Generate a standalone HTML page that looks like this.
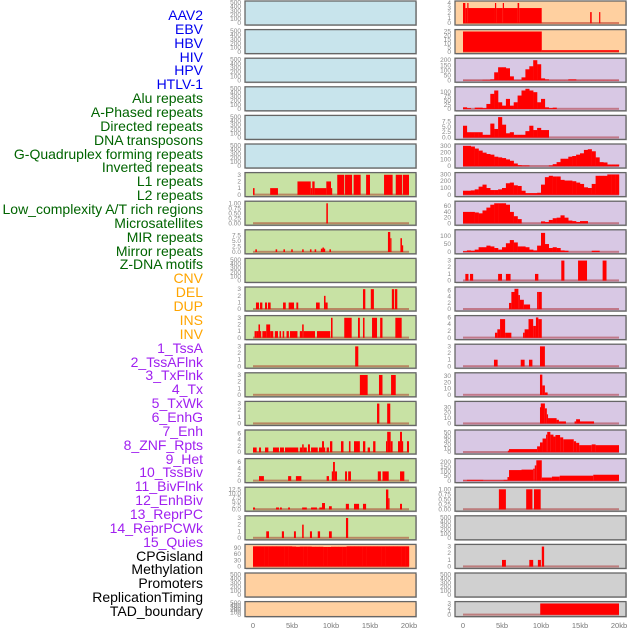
<!DOCTYPE html>
<html><head><meta charset="utf-8">
<style>
html,body{margin:0;padding:0;background:#fff;}
body{width:630px;height:630px;overflow:hidden;position:relative;font-family:"Liberation Sans",sans-serif;}
#labels div{position:absolute;right:427px;font-size:14px;line-height:14px;white-space:nowrap;}
svg{position:absolute;left:0;top:0;}
</style></head>
<body>
<div id="labels"></div>
<svg id="chart" width="630" height="630"></svg>
<script>
const trackLabels = ["AAV2","EBV","HBV","HIV","HPV","HTLV-1","Alu repeats","A-Phased repeats","Directed repeats","DNA transposons","G-Quadruplex forming repeats","Inverted repeats","L1 repeats","L2 repeats","Low_complexity A/T rich regions","Microsatellites","MIR repeats","Mirror repeats","Z-DNA motifs","CNV","DEL","DUP","INS","INV","1_TssA","2_TssAFlnk","3_TxFlnk","4_Tx","5_TxWk","6_EnhG","7_Enh","8_ZNF_Rpts","9_Het","10_TssBiv","11_BivFlnk","12_EnhBiv","13_ReprPC","14_ReprPCWk","15_Quies","CPGisland","Methylation","Promoters","ReplicationTiming","TAD_boundary"];
const labelColors = ["#0000ee","#006400","#ffa500","#a020f0","#000000"];
const labelGroupSizes = [6,13,5,15,5];
const xTickKb = [0,5,10,15,20];
const xTickLabels = ["0","5kb","10kb","15kb","20kb"];

// segments: [startKb, endKb, value]
const l1Segs = [[0,0.2,1],[2.2,3.2,1],[5.7,7.4,2],[7.4,7.6,1],[7.6,7.9,2],[7.9,9.4,1],[9.4,10,2],[10,10.1,1],[10.8,11.7,3],[11.8,12.7,3],[12.9,13.8,3],[14.5,15,3],[16.8,17.9,3],[18.3,19.1,3],[19.2,20,3]];
const aPhasedSegs = [[9.4,9.6,1]];
const directedSegs = [[0.3,0.5,1.2],[2.9,3.1,1.2],[3.9,4.1,1.2],[4.9,5.1,1.2],[6.3,6.5,1.2],[7.3,7.5,1.2],[7.9,8.1,1.2],[8.7,8.9,1.5],[8.9,9.1,2],[9.1,9.2,1.5],[9.8,10,1.2],[17.3,17.6,9],[17.6,17.7,6.2],[18.9,19.1,6.2],[19.1,19.2,3]];
const gquadSegs = [[0.38,0.77,1],[0.9,1.2,1],[1.54,1.8,1],[1.92,2.26,1],[3.85,4.2,1],[4.57,5.26,1],[5.56,5.8,1],[8.08,8.55,1],[9.1,9.3,2],[9.3,9.57,1],[14.1,14.4,3],[15.1,15.5,3],[17.8,18.1,3],[18.2,18.5,3]];
const invertedSegs = [[0.2,0.4,1],[0.4,0.7,1],[0.7,0.9,2],[0.9,1.0,1],[1.2,1.7,1],[1.7,2.2,2],[2.2,2.6,1],[2.8,3.2,1],[3.4,3.6,1],[3.8,4.0,1],[4.3,4.6,1],[4.74,5.7,1],[6.0,6.3,1],[6.3,6.5,2],[6.5,7.95,1],[8.2,9.9,1],[10.0,10.2,3],[11.7,12.65,3],[13.46,13.7,3],[14.1,14.3,3],[15.26,15.9,3],[16.3,16.6,3],[18.25,19.06,3]];
const l1bSegs = [[13.1,13.5,3]];
const l2Segs = [[13.7,14.7,3],[16.15,16.6,3],[17.7,18.3,3]];
const lowCompSegs = [[15.9,16.2,3],[17.2,17.6,3]];
const microSegs = [[0,0.47,1.5],[0.77,1.03,1.5],[1.54,1.97,1.5],[2.56,3.33,1.5],[3.46,3.97,1.5],[4.1,5.8,1.5],[6.0,6.3,1.5],[6.3,6.5,2.5],[6.5,6.9,1.5],[7.05,7.3,2.5],[7.44,8.3,1.5],[8.46,8.85,1.5],[8.85,9.1,3.5],[9.1,9.23,1.5],[9.44,9.74,1.5],[9.87,10.17,3.5],[11.28,11.6,3.5],[12.3,12.5,3.5],[12.95,13.7,3.5],[14.1,14.4,3.5],[14.7,15.0,1.5],[15.4,15.7,3.5],[17.05,17.2,3.5],[17.2,17.65,6.5],[17.65,17.9,3.5],[18.59,18.85,3.5],[18.85,19.1,6.5],[19.1,19.2,3.5],[19.74,20,3.5]];
const mirSegs = [[0.77,1.4,1.5],[4.5,4.9,1.5],[5.5,6.2,1.5],[9.44,9.74,1.5],[10.1,10.26,3],[10.26,10.5,6],[10.5,10.77,3],[11.8,12.05,3],[12.2,12.56,3],[16.0,16.4,3],[16.6,17.4,3],[18.85,19.4,3]];
const mirrorSegs = [[0,0.26,1.2],[2.95,3.33,1.2],[3.46,3.7,1.2],[4.5,4.74,1.2],[6.3,6.9,1.2],[7.44,8.2,1.2],[8.5,8.85,1.2],[8.85,9.23,4],[9.74,10.1,2],[11.9,12.3,3.5],[12.95,13.6,3.5],[14.1,14.5,3.5],[17.05,17.35,12.5],[17.35,17.5,7],[18.85,19.1,3.5]];
const zdnaSegs = [[1.7,2.05,1],[3.7,3.97,1],[5.25,5.5,1],[6.3,6.5,2],[7.3,7.56,1],[8.3,8.6,1],[9.74,10.1,1],[11.92,12.2,3]];
const methylBins = [98,98,98,98,98,98,98,98,98,98,97,96,97,97,97,96,96,96,95,95,96,96,96,96,98,98,98,98,98,98,98,98,98,98,98,98,98,98,98,98];
const insSegs = [[0,0.3,4],[0.3,0.55,3],[0.55,0.7,4],[0.7,4.1,3],[4.1,4.25,4],[4.25,5.1,3],[5.1,5.25,4],[5.25,7.0,3],[7.0,7.2,4],[7.2,10.09,3],[16.3,16.5,2.2],[17.45,17.6,2.2]];
const invSegs = [[0,10.1,25],[10.1,20,2]];
const tssABins = [2,2,2,2,2,5,5,10,80,130,130,120,40,5,5,30,110,140,200,160,20,10,2,2,2,2,2,10,10,2,2,2,2,2,2,2,2,2,2,2];
const tssAFlnkBins = [10,5,0,8,8,5,30,90,110,40,20,60,20,40,80,110,120,110,100,40,60,10,5,8,0,0,0,0,0,0,0,0,0,0,0,0,0,0,0,0];
const txFlnkBins = [5.5,2.5,2.5,2.5,2.5,1.3,1.3,6.5,4,9.5,6,2,2.5,1.3,1.3,1.3,3,5.5,3.5,4.5,3.5,3.5,0,0,0,0,0,0,0,0,0,0,0,0,0,0,0,0,0,0];
const txBins = [300,300,290,260,230,200,180,170,140,130,120,100,80,40,15,10,10,0,0,0,0,0,10,30,60,110,110,140,150,170,190,240,250,220,130,60,55,25,25,25];
const txWkBins = [60,60,65,80,120,150,100,70,70,80,100,170,180,140,130,60,25,25,25,30,150,260,280,270,270,220,210,210,200,180,160,110,100,160,280,280,280,300,300,300];
const enhGBins = [40,40,40,38,35,45,55,65,70,70,70,65,40,25,15,0,0,0,0,0,7,5,12,18,20,28,20,10,8,5,8,8,0,0,0,0,0,0,0,0];
const enhBins = [5,10,8,15,30,30,40,35,25,15,30,55,75,60,35,35,30,15,10,40,120,50,25,30,25,10,8,0,0,0,0,0,0,8,8,0,0,0,0,0];
const znfSegs = [[0.3,0.7,1],[0.9,1.3,1],[4.5,5.0,1],[5.5,6.1,1],[9.23,9.66,1],[12.6,13.0,3],[14.75,15.9,3],[17.9,18.4,3]];
const hetSegs = [[5.9,6.2,2],[6.2,6.6,5.5],[6.6,7.1,6.5],[7.1,7.3,4.5],[7.3,7.8,3],[7.8,8.6,1.5],[9.5,9.7,5.5],[9.7,10.1,5.5]];
const tssBivSegs = [[4.1,4.4,1.5],[4.4,4.75,2.5],[4.75,5.4,5.5],[5.4,6.2,1.5],[7.7,7.9,1.5],[7.9,8.4,2.5],[8.4,9.0,5.5],[9.0,9.35,3.5],[9.35,9.66,6],[9.66,10.1,5.5]];
const bivFlnkSegs = [[3.97,4.44,1],[7.4,7.9,1],[8.46,8.9,1],[9.87,10.5,3]];
const enhBivSegs = [[9.87,10.17,32],[10.17,10.5,15],[10.5,10.85,4]];
const reprPCSegs = [[9.87,9.97,30],[9.97,10.5,37],[10.5,10.75,28],[10.75,10.9,17],[10.9,12.0,10],[12.0,12.3,7],[12.3,13.2,4],[14.3,14.5,4],[14.5,15.0,8],[15.0,16.8,4]];
const reprPCWkSegs = [[5.75,5.9,4],[5.9,9.5,8],[9.5,9.87,15],[9.87,10.2,25],[10.2,10.65,35],[10.65,10.8,45],[10.8,11.2,52],[11.2,11.6,45],[11.6,11.85,40],[11.85,12.45,44],[12.45,12.85,38],[12.85,14.2,33],[14.2,14.5,28],[14.5,14.9,24],[14.9,16.5,18],[16.5,17.0,20],[17.0,20,18]];
const quiesSegs = [[0,0.5,4],[0.5,2.6,10],[2.6,5.2,6],[5.2,5.7,10],[5.7,5.9,40],[5.9,7.5,115],[7.5,9.0,120],[9.0,9.2,130],[9.2,9.4,165],[9.4,10.1,220],[10.1,11.4,35],[11.4,12.4,45],[12.4,16.7,55],[16.7,20,65]];
const cpgSegs = [[4.6,5.5,1],[8.1,8.9,1],[9.1,9.96,1]];
const promoterSegs = [[5.0,5.5,1],[8.5,9.0,1],[9.6,9.99,1],[10.1,10.4,3]];
const tadSegs = [[9.9,20,3]];

const t500 = [0,100,200,300,400,500];
const t3 = [0,1,2,3];
const tFrac = [0,0.25,0.5,0.75,1];
const t75 = [0,2.5,5,7.5];
const t6 = [0,2,4,6];
const t125 = [0,2.5,5,7.5,10,12.5];

const BG = {blue:"#c8e4ec",green:"#c8e2a4",peach:"#ffd0a0",purple:"#d8c8e4",grey:"#d0d0d0"};
const leftPanels = [
 ["blue",t500,500,null],["blue",t500,500,null],["blue",t500,500,null],["blue",t500,500,null],["blue",t500,500,null],["blue",t500,500,null],
 ["green",t3,3.1,l1Segs,"s",0],["green",tFrac,1.03,aPhasedSegs,"s",2],["green",t75,9.3,directedSegs,"s",1],["green",t500,500,null],
 ["green",t3,3.1,gquadSegs,"s",0],["green",t3,3.1,invertedSegs,"s",0],["green",t3,3.1,l1bSegs,"s",0],["green",t3,3.1,l2Segs,"s",0],["green",t3,3.1,lowCompSegs,"s",0],
 ["green",t6,6.6,microSegs,"s",0],["green",t6,6.6,mirSegs,"s",0],["green",t125,13,mirrorSegs,"s",1],["green",t3,3.1,zdnaSegs,"s",0],
 ["peach",[0,30,60,90],100,methylBins,"b",0],["peach",t500,500,null],["peach",t500,500,null]
];
const rightPanels = [
 ["peach",[0,1,2,3,4],4.1,insSegs,"s",0],["peach",[0,5,10,15,20,25],25.5,invSegs,"s",0],
 ["purple",[0,50,100,150,200],205,tssABins,"b",0],["purple",[0,25,50,75,100],123,tssAFlnkBins,"b",0],["purple",t75,9.6,txFlnkBins,"b",1],
 ["purple",[0,100,200,300],305,txBins,"b",0],["purple",[0,100,200,300],305,txWkBins,"b",0],["purple",[0,20,40,60],72,enhGBins,"b",0],["purple",[0,50,100],130,enhBins,"b",0],
 ["purple",t3,3.1,znfSegs,"s",0],["purple",t6,6.6,hetSegs,"s",0],["purple",t6,6.1,tssBivSegs,"s",0],["purple",t3,3.1,bivFlnkSegs,"s",0],
 ["purple",[0,10,20,30],32.5,enhBivSegs,"s",0],["purple",[0,10,20,30],38,reprPCSegs,"s",0],["purple",[0,10,20,30,40,50],53,reprPCWkSegs,"s",0],["purple",[0,50,100,150,200],222,quiesSegs,"s",0],
 ["grey",tFrac,1.03,cpgSegs,"s",2],["grey",t500,500,null],["grey",t3,3.1,promoterSegs,"s",0],["grey",t500,500,null],["grey",t3,3.1,tadSegs,"s",0]
];

const NS="http://www.w3.org/2000/svg";
const svg=document.getElementById('chart');
function mk(tag,attrs,parent){const e=document.createElementNS(NS,tag);for(const k in attrs)e.setAttribute(k,attrs[k]);(parent||svg).appendChild(e);return e;}

const labDiv=document.getElementById('labels');
let li=0;
labelGroupSizes.forEach((n,g)=>{for(let j=0;j<n;j++){const d=document.createElement('div');
 
 
 d.textContent=trackLabels[li];d.style.color=labelColors[g];d.style.top=(8+li*13.86)+'px';labDiv.appendChild(d);li++;}});

const cols=[{px:245,pw:171,x0:253,panels:leftPanels,name:'left'},{px:455,pw:171,x0:463,panels:rightPanels,name:'right'}];
const KBPX=7.8;
cols.forEach(c=>{
 const xs=kb=>c.x0+kb*KBPX;
 c.panels.forEach((p,i)=>{
  const top=1+i*28.6, h=(i===21)?15:24;
  const yTop=top+1.5, yBot=top+h-1.8;
  const ys=v=>yBot-(v/p[2])*(yBot-yTop);
  const g=mk('g',{});
  
  
  mk('rect',{x:c.px+1,y:top+1,width:c.pw,height:h,fill:'#999',opacity:0.5},g);
  const bg=mk('rect',{x:c.px,y:top,width:c.pw,height:h,fill:BG[p[0]],stroke:'#666','stroke-width':1.3},g);
  
  
  const ticks=p[1];
  ticks.forEach(t=>{
   const tx=mk('text',{x:c.px-4,y:ys(t)+2,'font-size':6.5,'text-anchor':'end',fill:'#888'},g);
   
   
   tx.textContent=(p[5]!==undefined)?t.toFixed(p[5]):String(t);
  });
  if(p[3]){
   const bl=mk('rect',{x:xs(0),y:yBot-1.2,width:20*KBPX,height:2,fill:'rgba(160,0,0,0.4)'},g);
   
   
   if(p[4]==='s'){
    p[3].forEach(s=>{const r=mk('rect',{x:xs(s[0]),y:ys(s[2]),width:Math.max(1.2,(s[1]-s[0])*KBPX),height:yBot-ys(s[2]),fill:'#ff0000'},g);
     
     });
   } else {
    p[3].forEach((v,k)=>{if(v<=0)return;const r=mk('rect',{x:xs(k*0.5),y:ys(v),width:0.5*KBPX+0.2,height:yBot-ys(v),fill:'#ff0000'},g);
     
     });
   }
  }
 });
 xTickKb.forEach((kb,j)=>{const t=mk('text',{x:xs(kb),y:628,'font-size':7.5,'text-anchor':'middle',fill:'#777'});
  
  
  t.textContent=xTickLabels[j];});
});
</script>
</body></html>
